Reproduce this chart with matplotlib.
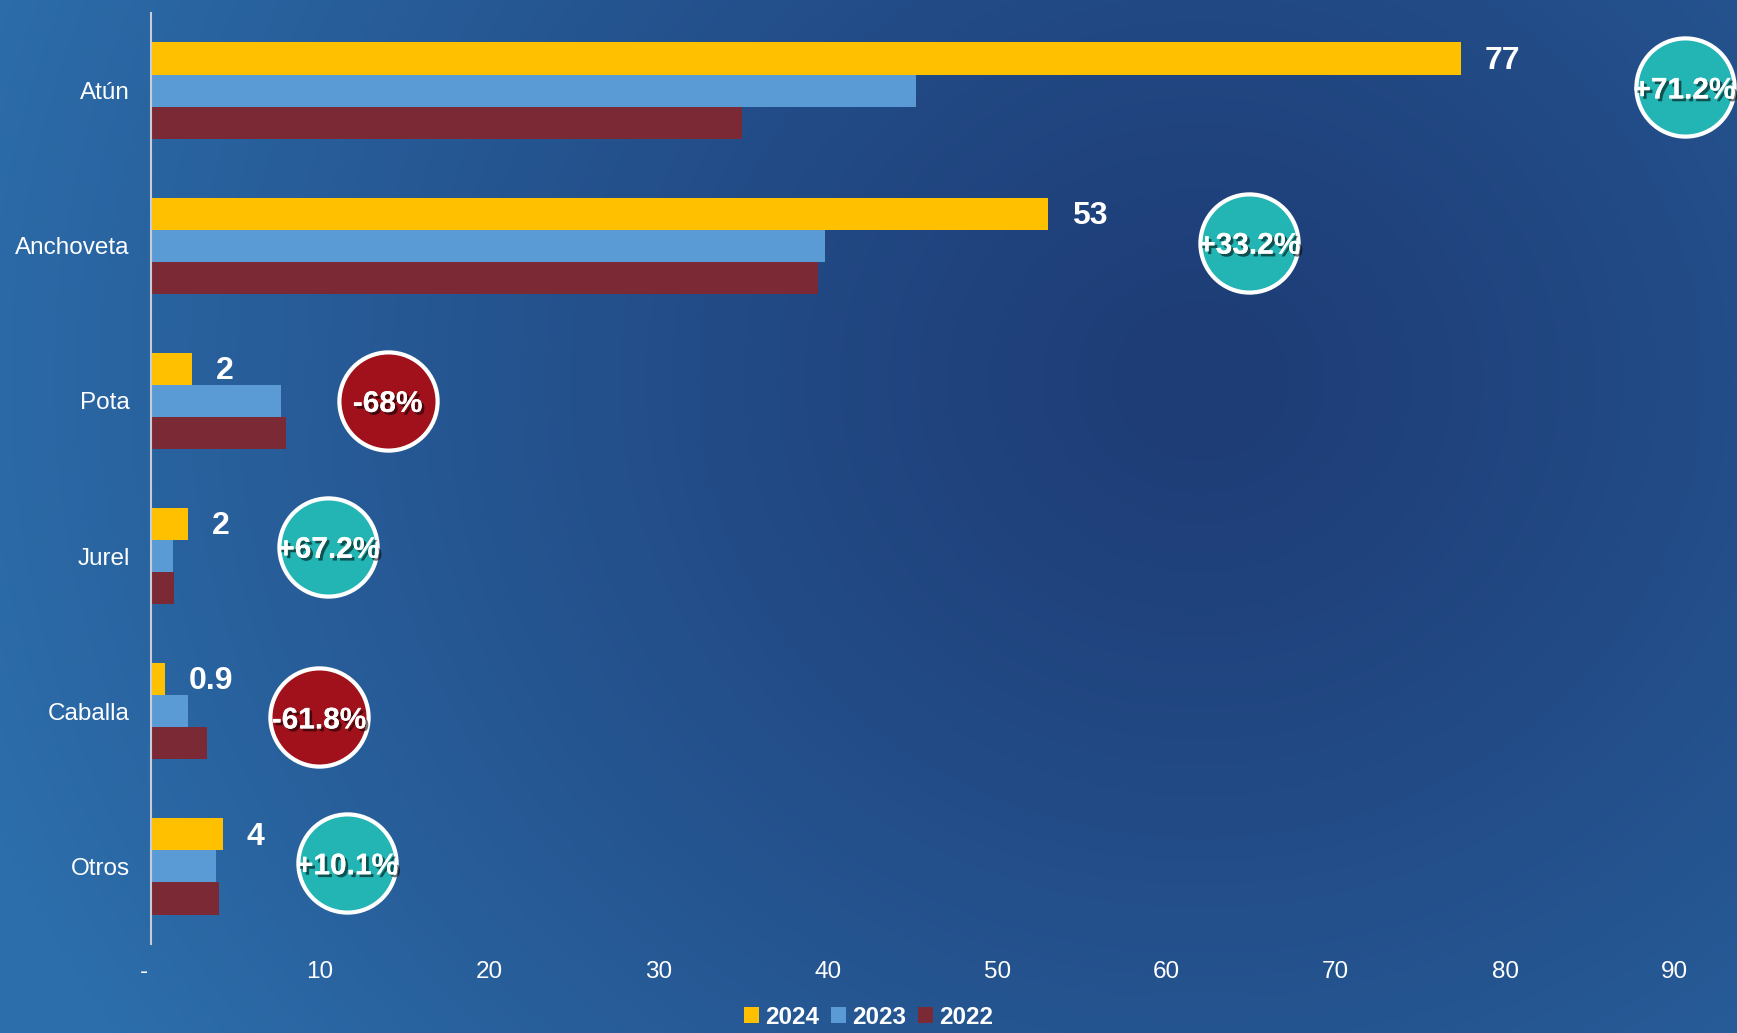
import numpy as np
import matplotlib
matplotlib.use("Agg")
import matplotlib.pyplot as plt
import matplotlib.patheffects as pe
import matplotlib.transforms as mtransforms
from matplotlib.colors import to_rgb

plt.rcParams['font.family'] = ['Liberation Sans', 'DejaVu Sans']

categories = ["Atún", "Anchoveta", "Pota", "Jurel", "Caballa", "Otros"]
years = ["2024", "2023", "2022"]
v2024 = [77.4, 53.0, 2.45, 2.2, 0.85, 4.25]
v2023 = [45.2, 39.8, 7.7, 1.32, 2.2, 3.86]
v2022 = [34.9, 39.4, 8.0, 1.4, 3.3, 4.05]
value_labels = ["77", "53", "2", "2", "0.9", "4"]
changes = ["+71.2%", "+33.2%", "-68%", "+67.2%", "-61.8%", "+10.1%"]
badge_x = [90.6, 64.9, 14.0, 10.5, 9.95, 11.6]
badge_dy = [-0.02, -0.02, 0.0, -0.06, 0.04, -0.02]
xticks = [0, 10, 20, 30, 40, 50, 60, 70, 80, 90]
xtick_labels = ["-", "10", "20", "30", "40", "50", "60", "70", "80", "90"]

colors = ["#FFC000", "#5B9BD5", "#7B2A35"]
W, H = 1737, 1033
fig = plt.figure(figsize=(W / 100, H / 100), dpi=100)

# background radial gradient
bg = fig.add_axes([0, 0, 1, 1])
yy, xx = np.mgrid[0:H, 0:W]
d = np.sqrt((xx - 1200) ** 2 + ((yy - 380) * 1.1) ** 2) / 1300
d = np.clip(d, 0, 1) ** 1.2
c0 = np.array(to_rgb("#1e3c76"))
c1 = np.array(to_rgb("#2c6eab"))
img = c0[None, None, :] * (1 - d[..., None]) + c1[None, None, :] * d[..., None]
bg.imshow(img, aspect="auto", extent=[0, 1, 0, 1], origin="upper")
bg.axis("off")

ax = fig.add_axes([150.7 / W, 1 - 944 / H, 1 - 150.7 / W, (944 - 13) / H])
ax.patch.set_alpha(0)
ax.set_xlim(0, (W - 150.7) / 16.93)
ax.set_ylim(5.5, -0.5)

y = np.arange(len(categories))
h = 0.207
for i, vals in enumerate([v2024, v2023, v2022]):
    ax.barh(y + (i - 1) * h, vals, height=h, color=colors[i], label=years[i], zorder=2)

for i, lab in enumerate(value_labels):
    ax.text(v2024[i] + 1.4, y[i] - h + 0.015, lab, color="white", fontsize=23, fontweight="bold",
            va="center", ha="left", zorder=3)

shadow = [pe.withSimplePatchShadow(offset=(2, -2), shadow_rgbFace="black", alpha=0.55), pe.Normal()]
for i, ch in enumerate(changes):
    fc = "#22b5b4" if ch.startswith("+") else "#a0111b"
    yc = y[i] + badge_dy[i]
    ax.scatter(badge_x[i], yc, s=5000, color=fc, edgecolor="white", linewidth=3, zorder=4,
               clip_on=False)
    ax.text(badge_x[i], yc, ch, color="white", fontsize=21.5, fontweight="bold",
            ha="center", va="center_baseline", zorder=5, path_effects=shadow)

ax.set_yticks(y)
ax.set_yticklabels(categories, color="white", fontsize=17.5)
ax.set_xticks(xticks)
ax.set_xticklabels(xtick_labels, color="white", fontsize=17.5)
ax.tick_params(axis="y", length=0, pad=15)
ax.tick_params(axis="x", length=0, pad=12)
dash = ax.get_xticklabels()[0]
dash.set_transform(dash.get_transform() + mtransforms.ScaledTranslation(-0.07, 0, fig.dpi_scale_trans))
for s in ["top", "right", "bottom"]:
    ax.spines[s].set_visible(False)
ax.spines["left"].set_color("#c8ccd4")
ax.spines["left"].set_linewidth(1.5)

leg = fig.legend(loc="lower center", bbox_to_anchor=(0.5, -0.017), ncol=3, frameon=False,
                 handlelength=0.6, handleheight=0.6, handletextpad=0.25, columnspacing=0.5,
                 prop={"size": 17.5, "weight": "bold"})
for t in leg.get_texts():
    t.set_color("white")

fig.savefig("out.png", dpi=100)
